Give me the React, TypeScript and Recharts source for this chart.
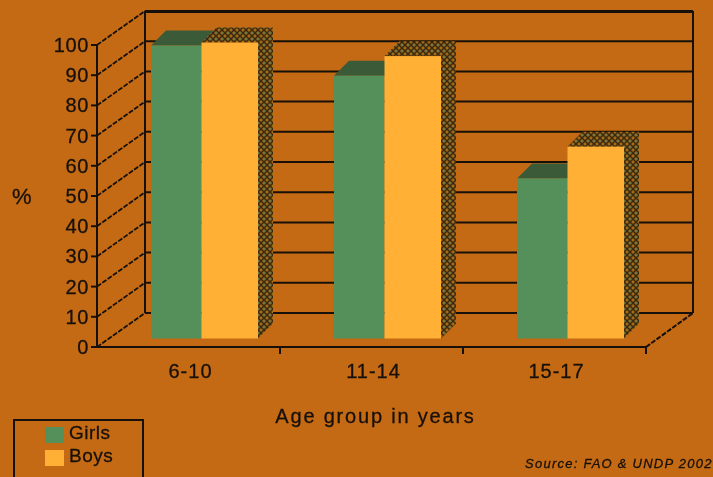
import { Bar, BarChart, CartesianGrid, Legend, XAxis, YAxis } from "recharts";

const ageGroups = ["6-10", "11-14", "15-17"];
const girls = [97, 87, 53];
const boys = [98, 93.5, 63.5];
const percentTicks = [0, 10, 20, 30, 40, 50, 60, 70, 80, 90, 100];

const data = ageGroups.map((group, i) => ({
  group,
  Girls: girls[i],
  Boys: boys[i],
}));

const INK = "#17100a";
const FONT = "'Liberation Sans', Arial, sans-serif";
const WALL_DX = 48;
const WALL_DY = 34;
const WALL_RIGHT = 693;
const BAR_DEPTH = 15;
const BAR_DX = 16;
const BAR_DY = 8.5;
const BAND = 183;

// each grid line runs up the side wall, then across the back wall
function WallLine({ x1, y1 }: any) {
  return (
    <g>
      <line
        x1={x1}
        x2={x1 + WALL_DX}
        y1={y1}
        y2={y1 - WALL_DY}
        stroke={INK}
        strokeWidth={1.8}
        strokeDasharray="5 1.5"
      />
      <line
        x1={x1 + WALL_DX}
        x2={WALL_RIGHT}
        y1={y1 - WALL_DY}
        y2={y1 - WALL_DY}
        stroke={INK}
        strokeWidth={2}
      />
    </g>
  );
}

function YTick({ y, payload }: any) {
  const axisX = 97;
  return (
    <g>
      <line x1={axisX - 6} x2={axisX} y1={y} y2={y} stroke={INK} strokeWidth={2} />
      <text
        x={axisX - 8}
        y={y + 7}
        textAnchor="end"
        fill={INK}
        stroke={INK}
        strokeWidth={0.3}
        fontFamily={FONT}
        fontSize={20}
        letterSpacing={0.6}
      >
        {payload.value}
      </text>
    </g>
  );
}

function XTick({ x, y, payload }: any) {
  const edge = x + BAND / 2;
  return (
    <g>
      <line x1={edge} x2={edge} y1={347} y2={354} stroke={INK} strokeWidth={2} />
      <text
        x={x + 2}
        y={y + 23}
        textAnchor="middle"
        fill={INK}
        stroke={INK}
        strokeWidth={0.3}
        fontFamily={FONT}
        fontSize={20}
        letterSpacing={1}
      >
        {payload.value}
      </text>
    </g>
  );
}

function GirlsBar({ x, y, width, height, fill }: any) {
  const left = x + BAR_DX;
  const top = y - BAR_DY;
  const w = width - 3;
  return (
    <g>
      <polygon
        points={`${left},${top} ${left + BAR_DEPTH},${top - BAR_DEPTH} ${left + w + BAR_DEPTH},${top - BAR_DEPTH} ${left + w},${top}`}
        fill="#3a5a38"
      />
      <rect x={left} y={top} width={w} height={height} fill={fill} />
    </g>
  );
}

function BoysBar({ x, y, width, height, fill }: any) {
  const left = x + BAR_DX - 3;
  const top = y - BAR_DY;
  const w = width + 3;
  const bottom = top + height;
  return (
    <g>
      <polygon
        points={`${left},${top} ${left + BAR_DEPTH},${top - BAR_DEPTH} ${left + w + BAR_DEPTH},${top - BAR_DEPTH} ${left + w},${top}`}
        fill="url(#hatch)"
      />
      <polygon
        points={`${left + w},${top} ${left + w + BAR_DEPTH},${top - BAR_DEPTH} ${left + w + BAR_DEPTH},${bottom - BAR_DEPTH} ${left + w},${bottom}`}
        fill="url(#hatch)"
      />
      <rect x={left} y={top} width={w} height={height} fill={fill} />
    </g>
  );
}

function legendOrder(name: string) {
  return name === "Girls" ? 0 : 1;
}

function LegendBox({ payload }: any) {
  const items = [...(payload || [])].sort(
    (a: any, b: any) => legendOrder(a.value) - legendOrder(b.value),
  );
  return (
    <div
      style={{
        boxSizing: "border-box",
        width: 131,
        height: 70,
        border: `2.5px solid ${INK}`,
        paddingTop: 3,
        paddingLeft: 30,
        fontFamily: FONT,
        fontSize: 19,
        WebkitTextStroke: "0.3px " + INK,
        color: INK,
        lineHeight: "22.5px",
      }}
    >
      {items.map((entry: any) => (
        <div key={entry.value} style={{ display: "flex", alignItems: "center" }}>
          <span
            style={{
              display: "inline-block",
              width: 19,
              height: 16,
              marginRight: 5,
              background: entry.color,
            }}
          />
          <span style={{ position: "relative", top: -2, letterSpacing: 0.5 }}>
            {entry.value}
          </span>
        </div>
      ))}
    </div>
  );
}

export default function App() {
  return (
    <div
      style={{
        position: "absolute",
        left: 0,
        top: 0,
        width: 713,
        height: 477,
        overflow: "hidden",
        background: "#c46a14",
      }}
    >
      <div style={{ filter: "blur(0.6px)" }}>
        <BarChart
          width={713}
          height={477}
          data={data}
          barSize={53.5}
          barGap={0}
          margin={{ top: 45, right: 67, bottom: 70, left: 0 }}
        >
          <defs>
            <pattern id="hatch" width="6" height="6" patternUnits="userSpaceOnUse">
              <rect width="6" height="6" fill="#a26c14" />
              <path d="M0 6L6 0M0 0L6 6" stroke="#3a2810" strokeWidth={1.5} />
              <rect x="0" y="2.5" width="1.2" height="1.2" fill="#4f7f66" />
            </pattern>
          </defs>
          <CartesianGrid vertical={false} horizontal={<WallLine />} />
          <YAxis
            width={97}
            domain={[0, 100]}
            ticks={percentTicks}
            interval={0}
            tickLine={false}
            tick={<YTick />}
            axisLine={{ stroke: INK, strokeWidth: 2 }}
            label={{
              value: "%",
              position: "insideLeft",
              offset: 12,
              fill: INK,
              stroke: INK,
              strokeWidth: 0.3,
              fontFamily: FONT,
              fontSize: 22,
            }}
          />
          <XAxis
            dataKey="group"
            height={60}
            tickLine={false}
            tick={<XTick />}
            axisLine={{ stroke: INK, strokeWidth: 2 }}
            label={{
              value: "Age group in years",
              position: "insideBottom",
              offset: -16,
              dx: 4,
              fill: INK,
              stroke: INK,
              strokeWidth: 0.3,
              fontFamily: FONT,
              fontSize: 20,
              letterSpacing: 1.8,
            }}
          />
          <Legend
            layout="horizontal"
            verticalAlign="middle"
            content={<LegendBox />}
            wrapperStyle={{ left: 13, top: 419, width: 131, height: 70 }}
          />
          <Bar
            dataKey="Girls"
            fill="#55905a"
            shape={<GirlsBar />}
            isAnimationActive={false}
          />
          <Bar
            dataKey="Boys"
            fill="#ffb035"
            shape={<BoysBar />}
            isAnimationActive={false}
          />
          {/* back wall frame */}
          <line x1={145} x2={145} y1={11} y2={313} stroke={INK} strokeWidth={2} />
          <line x1={145} x2={694} y1={12} y2={12} stroke={INK} strokeWidth={2} />
          <line x1={693} x2={693} y1={12} y2={313} stroke={INK} strokeWidth={2} />
          <line x1={646} x2={693} y1={347} y2={313} stroke={INK} strokeWidth={2} strokeDasharray="5 1.5" />
        </BarChart>
        <div
          style={{
            position: "absolute",
            left: 525,
            top: 456,
            whiteSpace: "nowrap",
            fontFamily: FONT,
            fontStyle: "italic",
            fontSize: 13,
            letterSpacing: 1.25,
            WebkitTextStroke: "0.3px " + INK,
            color: INK,
          }}
        >
          Source: FAO &amp; UNDP 2002
        </div>
      </div>
    </div>
  );
}
